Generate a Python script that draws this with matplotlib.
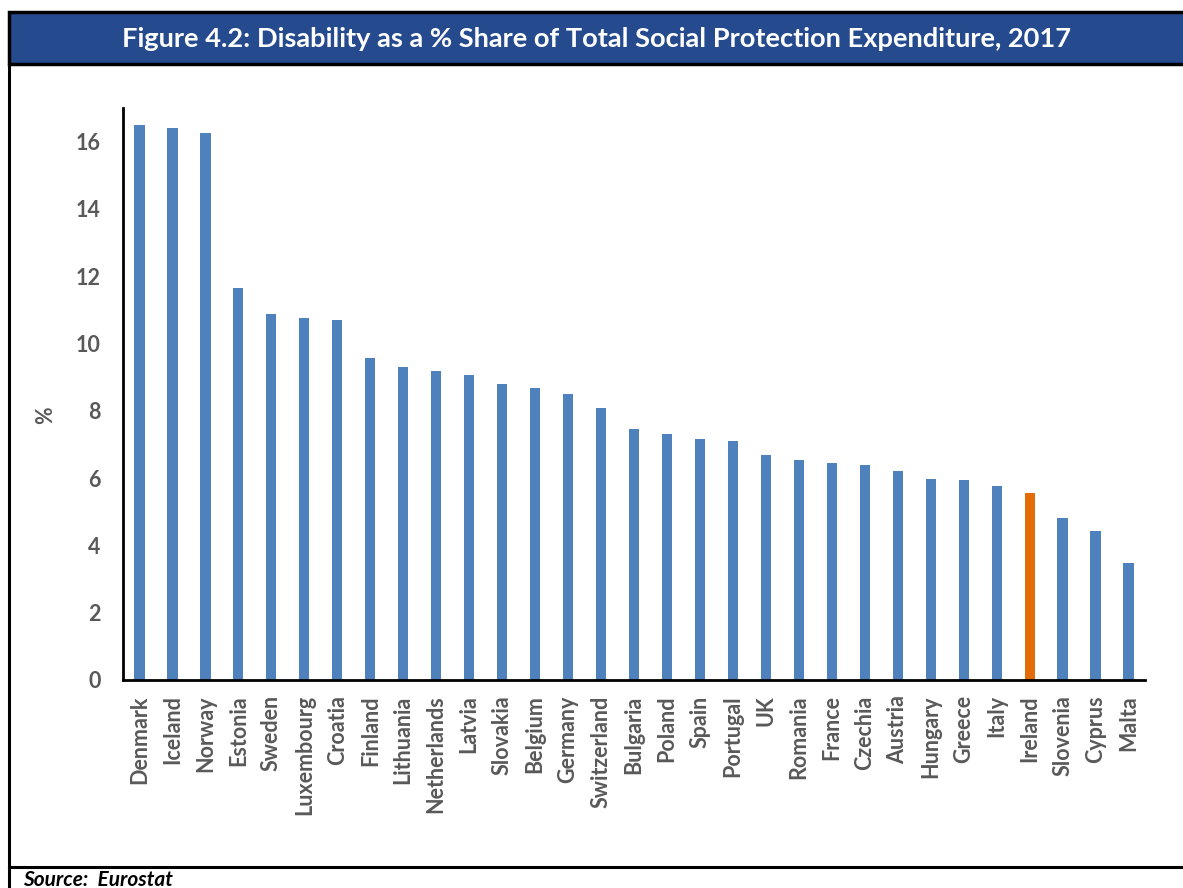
import matplotlib
matplotlib.use("Agg")
import matplotlib.pyplot as plt
from matplotlib.patches import Rectangle
from matplotlib.lines import Line2D

countries = ["Denmark", "Iceland", "Norway", "Estonia", "Sweden", "Luxembourg",
             "Croatia", "Finland", "Lithuania", "Netherlands", "Latvia", "Slovakia",
             "Belgium", "Germany", "Switzerland", "Bulgaria", "Poland", "Spain",
             "Portugal", "UK", "Romania", "France", "Czechia", "Austria", "Hungary",
             "Greece", "Italy", "Ireland", "Slovenia", "Cyprus", "Malta"]
disability_share = [16.50, 16.41, 16.26, 11.64, 10.89, 10.75, 10.70, 9.56, 9.31,
                    9.17, 9.05, 8.79, 8.67, 8.51, 8.07, 7.45, 7.30, 7.15, 7.11,
                    6.68, 6.55, 6.46, 6.38, 6.20, 5.96, 5.93, 5.78, 5.57, 4.80,
                    4.44, 3.48]
highlight = "Ireland"
y_ticks = [0, 2, 4, 6, 8, 10, 12, 14, 16]

title = "Figure 4.2: Disability as a % Share of Total Social Protection Expenditure, 2017"
source = "Source:  Eurostat"

W, H = 1183, 888
BLUE = "#4F81BD"
ORANGE = "#E36C09"
HEADER = "#254A8E"
GREY = "#595959"
FONT = "Lato"

fig = plt.figure(figsize=(W / 100, H / 100), dpi=100)
fig.patch.set_facecolor("white")


def fx(px):
    return px / W


def fy(py):
    return 1 - py / H


# header band and frame
fig.add_artist(Rectangle((fx(9), fy(64)), fx(1190) - fx(9), fy(12) - fy(64),
                         transform=fig.transFigure, facecolor=HEADER,
                         edgecolor="black", linewidth=2.5, zorder=0))
fig.add_artist(Line2D([fx(9), fx(9)], [fy(64), fy(895)], transform=fig.transFigure,
                      color="black", linewidth=2.2))
fig.add_artist(Line2D([fx(9), fx(1190)], [fy(867), fy(867)], transform=fig.transFigure,
                      color="black", linewidth=2.2))
fig.text(fx(597), fy(39), title, ha="center", va="center", color="white",
         fontsize=19.6, fontweight="bold", family=FONT)
fig.text(fx(23), fy(886), source, ha="left", va="baseline", color="black",
         fontsize=15, fontweight="bold", style="italic", family=FONT)

ax = fig.add_axes([fx(123), fy(680), fx(1145) - fx(123), fy(108) - fy(680)])
x = range(len(countries))
colors = [ORANGE if c == highlight else BLUE for c in countries]
ax.bar(x, disability_share, width=0.31, color=colors)

ax.set_xlim(-0.5, len(countries) - 0.5)
ax.set_ylim(0, 17)
ax.set_yticks(y_ticks)
ax.set_yticklabels([str(t) for t in y_ticks])
ax.set_xticks(list(x))
ax.set_xticklabels(countries, rotation=90)

for lab in ax.get_xticklabels() + ax.get_yticklabels():
    lab.set_fontsize(15.5)
    lab.set_fontweight("bold")
    lab.set_color(GREY)
    lab.set_family(FONT)

ax.tick_params(axis="both", length=0)
ax.tick_params(axis="y", pad=16)
ax.tick_params(axis="x", pad=11)
ax.spines["top"].set_visible(False)
ax.spines["right"].set_visible(False)
ax.spines["left"].set_linewidth(2)
ax.spines["bottom"].set_linewidth(2)

fig.text(fx(46), fy(415), "%", rotation=90, ha="center", va="center",
         fontsize=15.5, fontweight="bold", color=GREY, family=FONT)

fig.savefig("out.png", dpi=100, facecolor="white")
